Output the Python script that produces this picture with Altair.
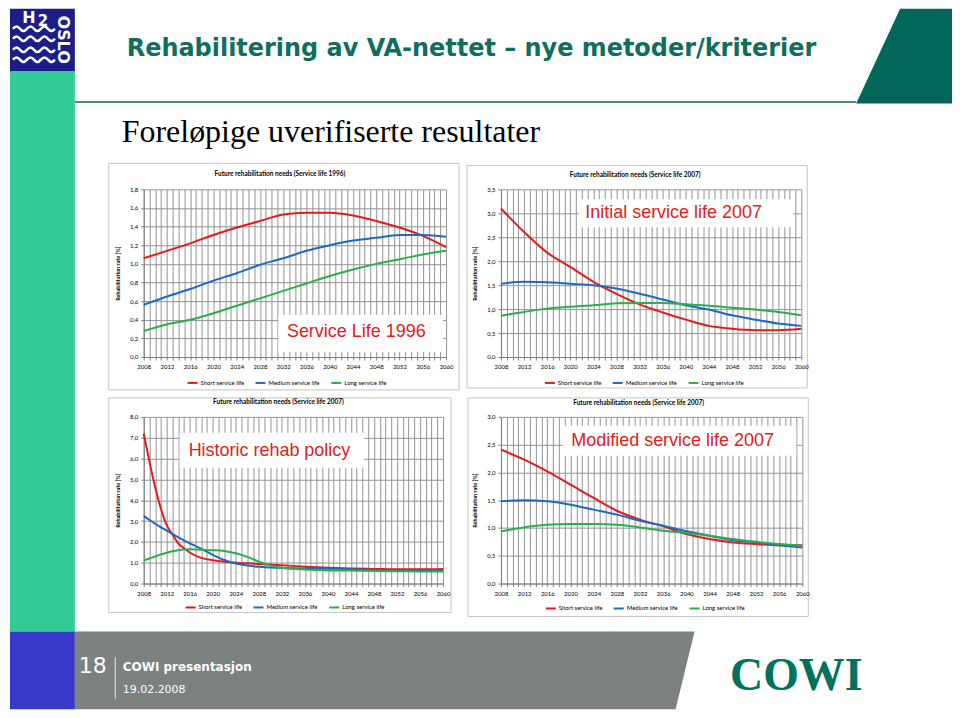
import altair as alt
import pandas as pd

SERIES = ["Short service life", "Medium service life", "Long service life"]
COLORS = ["#e31b1f", "#1f69be", "#2bae4c"]

YEARS = [2008, 2012, 2016, 2020, 2024, 2028, 2032, 2036, 2040, 2044, 2048, 2052, 2056, 2060]

# Service life 1996
tl_short = [1.06, 1.14, 1.22, 1.31, 1.39, 1.46, 1.53, 1.55, 1.55, 1.52, 1.46, 1.39, 1.30, 1.18]
tl_medium = [0.56, 0.65, 0.73, 0.82, 0.90, 0.99, 1.06, 1.14, 1.20, 1.25, 1.28, 1.31, 1.31, 1.29]
tl_long = [0.28, 0.35, 0.40, 0.47, 0.55, 0.63, 0.71, 0.79, 0.87, 0.94, 1.00, 1.05, 1.10, 1.14]

# Initial service life 2007
tr_short = [3.10, 2.61, 2.18, 1.88, 1.57, 1.32, 1.10, 0.93, 0.78, 0.65, 0.59, 0.56, 0.56, 0.59]
tr_medium = [1.53, 1.57, 1.56, 1.53, 1.50, 1.43, 1.32, 1.20, 1.08, 0.99, 0.87, 0.78, 0.70, 0.65]
tr_long = [0.86, 0.94, 1.01, 1.05, 1.08, 1.12, 1.13, 1.13, 1.10, 1.07, 1.03, 0.99, 0.94, 0.87]

# Historic rehab policy
BL_YEARS = [2008, 2009, 2010, 2011, 2012, 2013, 2014, 2015, 2016, 2017, 2018, 2020, 2022,
            2024, 2026, 2028, 2030, 2032, 2036, 2040, 2044, 2048, 2052, 2056, 2060]
bl_short = [7.2, 5.85, 4.62, 3.58, 2.8, 2.35, 1.93, 1.69, 1.49, 1.34, 1.23, 1.12, 1.05,
            1.0, 0.97, 0.94, 0.91, 0.88, 0.81, 0.76, 0.72, 0.70, 0.68, 0.68, 0.70]
bl_medium = [3.25, 3.05, 2.87, 2.7, 2.54, 2.38, 2.22, 2.07, 1.93, 1.8, 1.66, 1.38, 1.13,
             0.96, 0.86, 0.80, 0.77, 0.75, 0.72, 0.71, 0.69, 0.66, 0.63, 0.62, 0.62]
bl_long = [1.12, 1.2, 1.3, 1.4, 1.48, 1.55, 1.6, 1.63, 1.64, 1.63, 1.62, 1.6, 1.56,
           1.45, 1.28, 1.05, 0.86, 0.76, 0.67, 0.63, 0.62, 0.60, 0.59, 0.58, 0.58]

# Modified service life 2007
br_short = [2.41, 2.23, 2.02, 1.78, 1.54, 1.31, 1.15, 1.03, 0.89, 0.80, 0.74, 0.71, 0.69, 0.69]
br_medium = [1.48, 1.50, 1.48, 1.42, 1.33, 1.24, 1.13, 1.04, 0.94, 0.86, 0.78, 0.74, 0.69, 0.65]
br_long = [0.94, 1.01, 1.06, 1.07, 1.07, 1.06, 1.01, 0.95, 0.91, 0.86, 0.80, 0.75, 0.71, 0.68]

CHART_FONT = "Lato"
GRID = "#949494"
ONE = alt.Data(values=[{"k": 1}])


def long_df(years, s, m, l):
    rows = []
    for name, vals in zip(SERIES, [s, m, l]):
        for yr, v in zip(years, vals):
            rows.append({"year": yr, "value": v, "series": name})
    return pd.DataFrame(rows)


def panel(years, s, m, l, ymax, ystep, title, tdx, toff, note, box, tpos, w, h, lx, ly):
    df = long_df(years, s, m, l)
    n = int(round(ymax / ystep))
    yvals = [round(i * ystep, 1) for i in range(n + 1)]
    x = alt.X("year:Q",
              scale=alt.Scale(domain=[2008, 2060], nice=False, zero=False),
              axis=alt.Axis(values=list(range(2008, 2061)),
                            labelExpr="datum.value % 4 == 0 ? format(datum.value, 'd') : ''",
                            title=None, grid=True, gridColor=GRID, gridWidth=1,
                            domainColor="#7f7f7f", tickColor="#7f7f7f", tickSize=3,
                            labelFont=CHART_FONT, labelFontSize=6, labelColor="black",
                            labelPadding=4, labelOverlap=False, labelFlush=False))
    y = alt.Y("value:Q",
              scale=alt.Scale(domain=[0, ymax], nice=False, zero=True),
              axis=alt.Axis(values=yvals,
                            labelExpr="replace(format(datum.value, '.1f'), '.', ',')",
                            title="Rehabilitation rate [%]", titleFont=CHART_FONT,
                            titleFontSize=5.5, titleFontWeight="bold", titleColor="black",
                            titlePadding=9, grid=True, gridColor=GRID, gridWidth=1,
                            domainColor="#7f7f7f", tickColor="#7f7f7f", tickSize=3,
                            labelFont=CHART_FONT, labelFontSize=6, labelColor="black",
                            labelPadding=3))
    color = alt.Color("series:N",
                      scale=alt.Scale(domain=SERIES, range=COLORS),
                      legend=alt.Legend(orient="none", legendX=lx, legendY=ly,
                                        direction="horizontal", title=None,
                                        symbolType="stroke", symbolSize=100,
                                        symbolStrokeWidth=2, labelFont=CHART_FONT,
                                        labelFontSize=6, labelColor="black",
                                        labelOffset=2, columnPadding=7, padding=0))
    lines = alt.Chart(df).mark_line(interpolate="monotone", strokeWidth=2).encode(
        x=x, y=y, color=color, order=alt.Order("year:Q"))
    bx = alt.Chart(ONE).mark_rect(fill="white").encode(
        x=alt.value(box[0]), x2=alt.value(box[1]), y=alt.value(box[2]), y2=alt.value(box[3]))
    tx = alt.Chart(ONE).mark_text(text=note, font="Liberation Sans", fontSize=18,
                                  color="#e0201b", align="center", baseline="middle").encode(
        x=alt.value(tpos[0]), y=alt.value(tpos[1]))
    return alt.layer(lines, bx, tx).properties(
        width=w, height=h,
        title=alt.TitleParams(text=title, font=CHART_FONT, fontSize=6.5, fontWeight="bold",
                              color="black", anchor="middle", dx=tdx, offset=toff))


def spacer(w, h):
    return alt.Chart(ONE).mark_point(opacity=0, size=1, strokeWidth=0).encode(
        x=alt.value(5), y=alt.value(5)).properties(width=w, height=h)


def rect(x, x2, y, y2, **kw):
    return alt.Chart(ONE).mark_rect(**kw).encode(
        x=alt.value(x), x2=alt.value(x2), y=alt.value(y), y2=alt.value(y2))


def txt(x, y, s, **kw):
    return alt.Chart(ONE).mark_text(text=s, **kw).encode(x=alt.value(x), y=alt.value(y))


def path(d, **kw):
    return alt.Chart(ONE).mark_point(shape=d, size=4, opacity=1, **kw).encode(
        x=alt.value(0), y=alt.value(0))


WAVE = "q3.5,-4.5 7,0 t7,0 t7,0 t7,0 t7,0 t7,0"

header_layers = [
    # chart frames
    rect(99, 450, 155, 382, fillOpacity=0, stroke="#c4c4c4", strokeWidth=1),
    rect(458, 799, 157, 380, fillOpacity=0, stroke="#c4c4c4", strokeWidth=1),
    rect(99, 442, 390, 605, fillOpacity=0, stroke="#c4c4c4", strokeWidth=1),
    rect(459, 800, 390, 609, fillOpacity=0, stroke="#c4c4c4", strokeWidth=1),
    # left stripe
    rect(0, 65, 0, 63, fill="#1b1e88"),
    rect(0, 65, 63, 624, fill="#33cc99"),
    rect(0, 65, 624, 702, fill="#3838c8"),
    # footer band
    path("M65,624L686,624L667,702L65,702Z", filled=True, fill="#7b827f", strokeWidth=0),
    # top-right block
    path("M892,0L944,0L944,95L848,95Z", filled=True, fill="#00665a", strokeWidth=0),
    # separator line
    alt.Chart(ONE).mark_rule(color="#0b6b5c", strokeWidth=1.5).encode(
        x=alt.value(65), x2=alt.value(848), y=alt.value(93.5)),
    # titles
    txt(117, 40, "Rehabilitering av VA-nettet \u2013 nye metoder/kriterier",
        font="DejaVu Sans", fontWeight="bold", fontSize=24, color="#0f6e5e",
        align="left", baseline="middle"),
    txt(112, 124, "Forel\u00f8pige uverifiserte resultater", font="Liberation Serif",
        fontSize=32, color="black", align="left", baseline="middle"),
    # logo
    txt(19, 1, "H", font="DejaVu Sans", fontWeight="bold", fontSize=16, color="white",
        align="center", baseline="top"),
    txt(33, 5, "2", font="DejaVu Sans", fontWeight="bold", fontSize=15, color="white",
        align="center", baseline="top"),
    txt(53, 31, "OSLO", font="DejaVu Sans", fontWeight="bold", fontSize=16, color="white",
        align="center", baseline="middle", angle=90),
    path("M3,20" + WAVE, filled=False, stroke="white", strokeWidth=2.5),
    path("M3,30" + WAVE, filled=False, stroke="white", strokeWidth=2.5),
    path("M3,41" + WAVE, filled=False, stroke="white", strokeWidth=2.5),
    path("M3,51" + WAVE, filled=False, stroke="white", strokeWidth=2.5),
    # footer texts
    txt(69, 659, "18", font="DejaVu Sans", fontSize=22, color="white",
        align="left", baseline="middle"),
    alt.Chart(ONE).mark_rule(color="#e8e8e8", strokeWidth=1).encode(
        x=alt.value(105.5), y=alt.value(650), y2=alt.value(692)),
    txt(113, 660, "COWI presentasjon", font="DejaVu Sans", fontWeight="bold", fontSize=12,
        color="white", align="left", baseline="middle"),
    txt(113, 683, "19.02.2008", font="DejaVu Sans", fontSize=11, color="white",
        align="left", baseline="middle"),
    txt(788, 669, "COWI", font="Liberation Serif", fontWeight="bold", fontSize=46,
        color="#00725e", align="center", baseline="middle"),
]
header = alt.layer(*header_layers).properties(width=1, height=181)

tl = panel(YEARS, tl_short, tl_medium, tl_long, 1.8, 0.2,
           "Future rehabilitation needs (Service life 1996)", -15, 9,
           "Service Life 1996", (135, 300, 126, 163), (213, 143), 303, 168, 43, 188)
tr = panel(YEARS, tr_short, tr_medium, tr_long, 3.5, 0.5,
           "Future rehabilitation needs (Service life 2007)", -16, 8,
           "Initial service life 2007", (78, 293, 10, 38), (173, 24), 301, 168, 43, 188)
bl = panel(BL_YEARS, bl_short, bl_medium, bl_long, 8.0, 1.0,
           "Future rehabilitation needs (Service life 2007)", -15, 8,
           "Historic rehab policy", (36, 221, 16, 51), (126, 34), 300, 167, 41, 185)
br = panel(YEARS, br_short, br_medium, br_long, 3.0, 0.5,
           "Future rehabilitation needs (Service life 2007)", -13, 7,
           "Modified service life 2007", (62, 296, 9, 39), (172, 24), 302, 167, 44, 186)

cells = [
    header, spacer(1, 1), spacer(1, 1), spacer(1, 1),
    spacer(134, 168), tl, spacer(55, 168), tr,
    spacer(134, 60), spacer(1, 1), spacer(1, 1), spacer(1, 1),
    spacer(134, 167), bl, spacer(55, 167), br,
    spacer(134, 126), spacer(1, 1), spacer(1, 1), spacer(1, 1),
]

chart = alt.concat(*cells, columns=4, spacing=0, bounds="flush", align="each").resolve_scale(
    color="independent").properties(padding=0, background="white").configure_view(strokeWidth=0)

chart.save("out.html", embed_options={"renderer": "svg", "actions": False})
